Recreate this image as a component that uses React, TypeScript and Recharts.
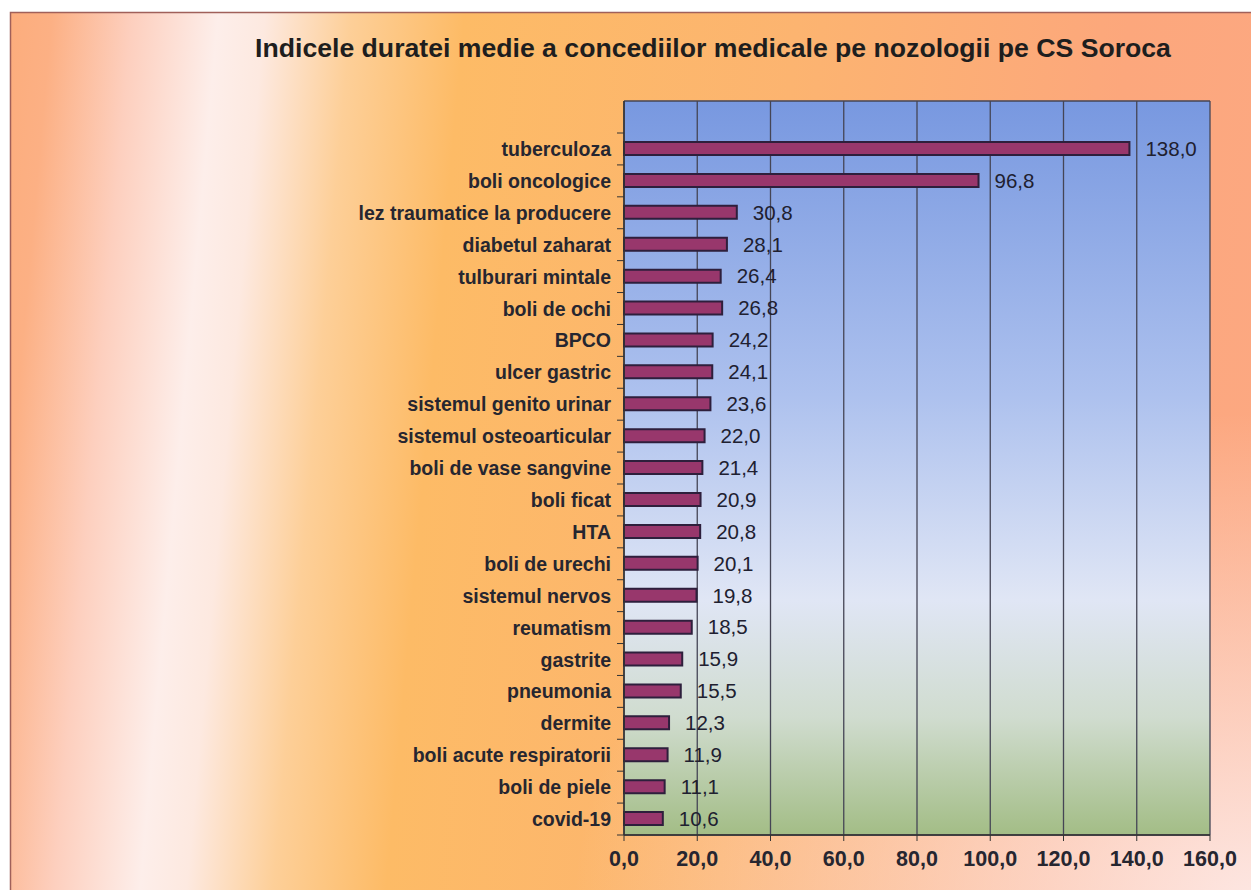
import React from 'react';
import { BarChart, Bar, XAxis, YAxis, CartesianGrid, LabelList } from 'recharts';

const categories = [
  'tuberculoza',
  'boli oncologice',
  'lez traumatice la producere',
  'diabetul zaharat',
  'tulburari mintale',
  'boli de ochi',
  'BPCO',
  'ulcer gastric',
  'sistemul genito urinar',
  'sistemul osteoarticular',
  'boli de vase sangvine',
  'boli ficat',
  'HTA',
  'boli de urechi',
  'sistemul nervos',
  'reumatism',
  'gastrite',
  'pneumonia',
  'dermite',
  'boli acute respiratorii',
  'boli de piele',
  'covid-19',
];

const values = [
  138.0, 96.8, 30.8, 28.1, 26.4, 26.8, 24.2, 24.1, 23.6, 22.0, 21.4, 20.9, 20.8, 20.1, 19.8, 18.5,
  15.9, 15.5, 12.3, 11.9, 11.1, 10.6,
];

const xTicks = [0, 20, 40, 60, 80, 100, 120, 140, 160];

const title = 'Indicele duratei medie a concediilor medicale pe nozologii pe CS Soroca';

const data = categories.map((name, i) => ({ name, value: values[i] }));

const W = 1251;
const H = 890;
const X_AXIS_H = 30;
const MARGIN = { top: 101, right: 41, bottom: 55 - X_AXIS_H, left: 0 };
const Y_AXIS_W = 624;
const PAD_TOP = 32;
const BAND = (H - MARGIN.top - MARGIN.bottom - X_AXIS_H - PAD_TOP) / categories.length;
const FONT = '"Liberation Sans", Arial, sans-serif';

const fmt = (v: number) => v.toFixed(1).replace('.', ',');

const YTick = (props: any) => {
  const { y, payload, index } = props;
  const ax = Y_AXIS_W + MARGIN.left;
  const isLast = index === categories.length - 1;
  return (
    <g>
      <line x1={ax - 7} x2={ax} y1={y - BAND / 2} y2={y - BAND / 2} stroke="#333" strokeWidth={1} />
      {isLast && <line x1={ax - 7} x2={ax} y1={y + BAND / 2} y2={y + BAND / 2} stroke="#333" strokeWidth={1} />}
      <text
        x={ax - 13}
        y={y}
        dy="0.36em"
        textAnchor="end"
        fontFamily={FONT}
        fontSize={19.5}
        fontWeight="bold"
        fill="#262630"
      >
        {payload.value}
      </text>
    </g>
  );
};

export default function App() {
  return (
    <div style={{ position: 'absolute', left: 0, top: 0, width: W, height: H, background: '#fff', overflow: 'hidden' }}>
      <svg width={W} height={H} style={{ position: 'absolute', left: 0, top: 0 }}>
        <defs>
          <linearGradient id="bgD" gradientUnits="userSpaceOnUse" x1="0" y1="0" x2="1320" y2="118">
            <stop offset="0" stopColor="#fcac7a" />
            <stop offset="0.04" stopColor="#fcb084" />
            <stop offset="0.1" stopColor="#fdcfbe" />
            <stop offset="0.165" stopColor="#fdeeea" />
            <stop offset="0.2" stopColor="#fde9e0" />
            <stop offset="0.265" stopColor="#fdcf98" />
            <stop offset="0.35" stopColor="#fdbb66" />
            <stop offset="0.6" stopColor="#fcb470" />
            <stop offset="0.85" stopColor="#fca77c" />
            <stop offset="1" stopColor="#fca882" />
          </linearGradient>
          <radialGradient id="glowBR" cx="1" cy="1" r="0.55">
            <stop offset="0" stopColor="#fdeeee" stopOpacity="0.9" />
            <stop offset="1" stopColor="#fdeeee" stopOpacity="0" />
          </radialGradient>
        </defs>
        <rect x={10.5} y={12.5} width={W} height={H} fill="url(#bgD)" stroke="#a0605a" strokeWidth={1.5} />
        <rect x={10.5} y={12.5} width={W} height={H} fill="url(#glowBR)" />
      </svg>
      <div
        style={{
          position: 'absolute',
          left: 0,
          top: 34,
          width: 1426,
          textAlign: 'center',
          fontFamily: FONT,
          fontWeight: 'bold',
          fontSize: 25,
          color: '#1e1e1e',
          whiteSpace: 'nowrap',
          transform: 'scaleX(1.065)',
          transformOrigin: '713px 0',
        }}
      >
        {title}
      </div>
      <div style={{ position: 'absolute', left: 0, top: 0 }}>
        <BarChart width={W} height={H} data={data} layout="vertical" margin={MARGIN} barCategoryGap={0}>
          <defs>
            <linearGradient id="plotGrad" x1="0" y1="0" x2="0" y2="1">
              <stop offset="0" stopColor="#7898e0" />
              <stop offset="0.4" stopColor="#adc1ee" />
              <stop offset="0.68" stopColor="#e0e6f5" />
              <stop offset="0.84" stopColor="#d0dccf" />
              <stop offset="1" stopColor="#a3bd86" />
            </linearGradient>
          </defs>
          <CartesianGrid
            fill="url(#plotGrad)"
            fillOpacity={1}
            stroke="#454555"
            strokeWidth={1.3}
            horizontalCoordinatesGenerator={(p: any) => [p.offset.top, p.offset.top + p.offset.height]}
          />
          <XAxis
            type="number"
            domain={[0, 160]}
            ticks={xTicks}
            tickFormatter={fmt}
            interval={0}
            height={X_AXIS_H}
            axisLine={{ stroke: '#333', strokeWidth: 1.5 }}
            tickLine={{ stroke: '#333' }}
            tickSize={6}
            tickMargin={10}
            tick={{ fontFamily: FONT, fontSize: 21.5, fontWeight: 'bold', fill: '#262630' }}
          />
          <YAxis
            type="category"
            dataKey="name"
            width={Y_AXIS_W}
            interval={0}
            padding={{ top: PAD_TOP, bottom: 0 }}
            axisLine={{ stroke: '#333', strokeWidth: 1.5 }}
            tickLine={false}
            tick={<YTick />}
          />
          <Bar dataKey="value" fill="#98376c" stroke="#2e1f3c" strokeWidth={2} barSize={13} isAnimationActive={false}>
            <LabelList
              dataKey="value"
              position="right"
              offset={16}
              formatter={(v: any) => fmt(Number(v))}
              style={{ fontFamily: FONT, fontSize: 20.5, fill: '#202030' }}
            />
          </Bar>
        </BarChart>
      </div>
    </div>
  );
}
